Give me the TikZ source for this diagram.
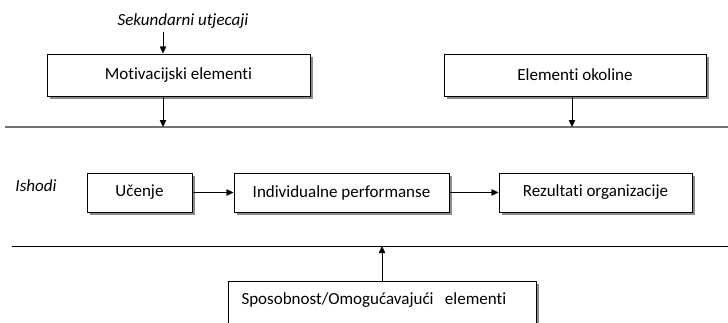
\documentclass[tikz,border=0pt]{standalone}
\usepackage{fontspec}
\setmainfont{Carlito}[Ligatures=NoCommon]
\usetikzlibrary{arrows.meta,shadows}

\begin{document}
\begin{tikzpicture}
                [x=1pt, y=-1pt, >={Triangle[length=7pt,width=6.5pt]},
                font=\fontsize{17}{20}\selectfont,
                box/.style={draw, line width=1pt, fill=white,
                    drop shadow={shadow xshift=2.5pt, shadow yshift=-2.5pt,
                        fill=black!45, opacity=1},
                    minimum height=42pt, inner sep=0pt},
                lbl/.style={font=\fontsize{17}{20}\selectfont\itshape},
                ]
                \useasboundingbox (0,0) rectangle (728,322);
                \clip (0,0) rectangle (728,322);

                \node[lbl] (sek) at (183,21) {Sekundarni utjecaji};
                \node[box, minimum width=263pt] (motiv) at (178.5,75)
                    {Motivacijski elementi};
                \node[box, minimum width=262pt] (okol) at (575,75)
                    {Elementi okoline};

                \draw[black!55, line width=1.4pt] (5,127) coordinate (t0)
                    -- (728,127) coordinate (t1);
                \coordinate (a1) at (163,127);
                \coordinate (a2) at (572,127);

                \node[lbl] (ishodi) at (36,186) {Ishodi};
                \node[box, minimum width=105pt, minimum height=39pt] (ucenje)
                    at (139.5,192.5) {Učenje};
                \node[box, minimum width=215pt, minimum height=39pt] (indiv)
                    at (341.5,192.5) {Individualne performanse};
                \node[box, minimum width=193pt, minimum height=39pt] (rez)
                    at (595.5,192.5) {Rezultati organizacije};

                \draw[line width=0.9pt] (12,246) coordinate (b0)
                    -- (728,246) coordinate (b1);
                \coordinate (a3) at (382,246);

                \node[box, anchor=north west, text width=282pt, align=left,
                    inner xsep=13pt, inner ysep=12pt,
                    text height=11pt, text depth=40pt] (spos) at (228,281)
                    {Sposobnost/Omogućavajući\ \ elementi};

                \draw[->] (sek.south -| a1) -- (motiv.north -| a1);
                \draw[->] (motiv.south -| a1) -- (a1);
                \draw[->] (okol.south -| a2) -- (a2);
                \draw[->] (ucenje) -- (indiv);
                \draw[->] (indiv) -- (rez);
                \draw[->] (spos.north -| a3) -- (a3);
            \end{tikzpicture}
\end{document}
